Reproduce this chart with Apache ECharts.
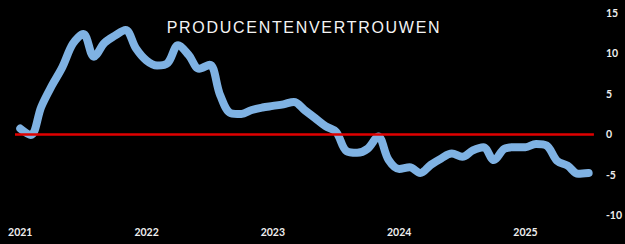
<!DOCTYPE html>
<html>
<head>
<meta charset="utf-8">
<script src="https://cdn.jsdelivr.net/npm/echarts@6/dist/echarts.min.js"></script>
<style>
html,body{margin:0;padding:0;background:#000;}
#c{width:625px;height:244px;}
</style>
</head>
<body>
<div id="c"></div>
<script>
var titleText = 'PRODUCENTENVERTROUWEN';
var years = ['2021', '2022', '2023', '2024', '2025'];
var monthsInLastYear = 7;
var values = [
  0.7, -0.1, 3.4, 6.0, 8.3, 11.2, 12.4, 9.6, 11.3, 12.2, 12.9, 10.6,
  9.1, 8.5, 8.8, 11.0, 9.8, 8.1, 8.6, 4.8, 2.6, 2.5, 3.0, 3.3,
  3.5, 3.7, 4.0, 3.0, 2.0, 1.0, 0.3, -2.1, -2.3, -1.8, -0.3, -3.2,
  -4.3, -4.1, -4.8, -3.8, -3.0, -2.4, -2.8, -2.0, -1.6, -3.2, -1.8, -1.6,
  -1.6, -1.2, -1.4, -3.3, -3.9, -4.9, -4.8
];
var zeroLevel = 0;
var yMin = -10, yMax = 15, yStep = 5;

var months = [];
years.forEach(function (y, yi) {
  var n = (yi === years.length - 1) ? monthsInLastYear : 12;
  for (var m = 1; m <= n; m++) months.push(y + '-' + (m < 10 ? '0' + m : m));
});

var chart = echarts.init(document.getElementById('c'), null, {renderer: 'svg'});
chart.setOption({
  backgroundColor: '#000000',
  animation: false,
  title: {
    text: titleText,
    left: 304,
    top: 19,
    padding: 0,
    textAlign: 'center',
    textStyle: {color: '#f4f4f4', fontFamily: 'Liberation Sans', fontSize: 16, fontWeight: 'normal'}
  },
  grid: {left: 15, right: 31, top: 13, bottom: 29, containLabel: false},
  xAxis: {
    type: 'category',
    data: months,
    boundaryGap: true,
    axisLine: {show: false},
    axisTick: {show: false},
    splitLine: {show: false},
    axisLabel: {
      color: '#eeeeee',
      fontFamily: 'Lato',
      fontWeight: 'bold',
      fontSize: 10.5,
      margin: 11,
      interval: function (i, v) { return v.slice(5) === '01'; },
      formatter: function (v) { return v.slice(0, 4); }
    }
  },
  yAxis: {
    type: 'value',
    position: 'right',
    min: yMin, max: yMax, interval: yStep,
    axisLine: {show: false},
    axisTick: {show: false},
    splitLine: {show: false},
    axisLabel: {color: '#eeeeee', fontFamily: 'Lato', fontWeight: 'bold', fontSize: 10.5, margin: 12}
  },
  series: [
    {
      name: 'nul',
      type: 'line',
      data: [],
      z: 1,
      markLine: {
        silent: true,
        symbol: 'none',
        label: {show: false},
        lineStyle: {color: '#e00000', width: 2.5, type: 'solid'},
        data: [{yAxis: zeroLevel}]
      }
    },
    {
      name: titleText,
      type: 'line',
      data: values,
      z: 3,
      smooth: 0.35,
      symbol: 'none',
      lineStyle: {color: '#7fb2e3', width: 8, cap: 'round', join: 'round'}
    }
  ]
});

document.querySelectorAll('#c svg text').forEach(function (t) {
  if (t.textContent === titleText) { t.style.letterSpacing = '1.7px'; }
});
</script>
</body>
</html>
